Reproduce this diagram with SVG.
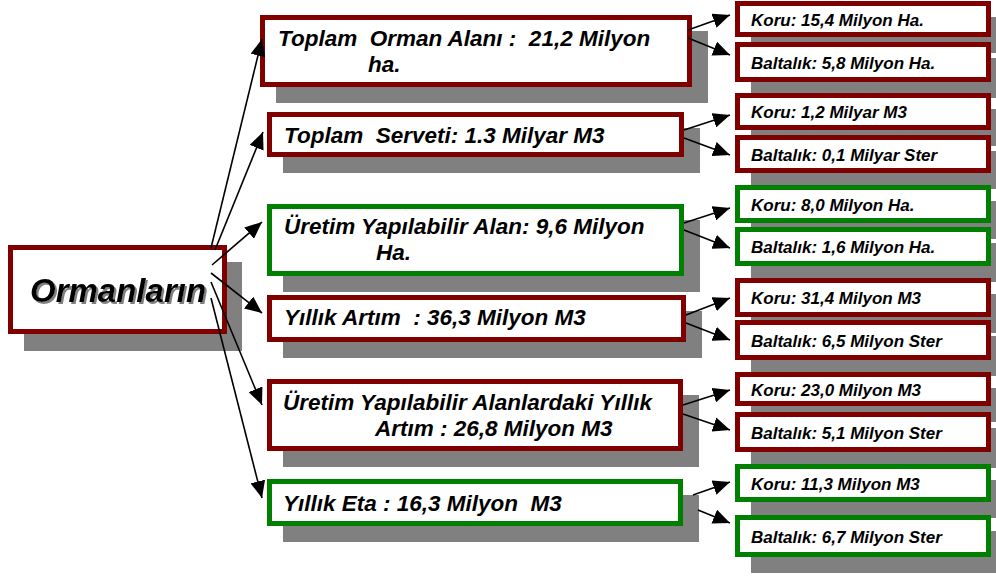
<svg xmlns="http://www.w3.org/2000/svg" width="996" height="576" viewBox="0 0 996 576">
<style>
.sh{fill:#808080}
.r{fill:#fff;stroke:#800000;stroke-width:5}
.g{fill:#fff;stroke:#008000;stroke-width:5}
text{font-family:"Liberation Sans",Arial,sans-serif;font-weight:bold;font-style:italic;fill:#000;white-space:pre}
.t2{font-size:22.5px}
.t3{font-size:17px}
.t1{font-size:33px;filter:url(#ts)}
.c line{stroke:#000;stroke-width:1.6;marker-end:url(#ah)}
</style>
<defs>
<marker id="ah" markerUnits="userSpaceOnUse" markerWidth="19" markerHeight="15" refX="17" refY="7.5" orient="auto">
<path d="M0,0 L17,7.5 L0,15 Z" fill="#000"/>
</marker>
<filter id="ts" x="-10%" y="-20%" width="120%" height="150%">
<feDropShadow dx="2" dy="2" stdDeviation="0.5" flood-color="#808080" flood-opacity="1"/>
</filter>
</defs>
<rect width="996" height="576" fill="#fff"/>

<g id="shadows">
<rect class="sh" x="24" y="262" width="218" height="89"/>
<rect class="sh" x="276" y="31" width="432" height="72"/>
<rect class="sh" x="283" y="128" width="417" height="45"/>
<rect class="sh" x="283" y="220" width="417" height="72"/>
<rect class="sh" x="283" y="311" width="419" height="47"/>
<rect class="sh" x="283" y="395" width="416" height="72"/>
<rect class="sh" x="283" y="495" width="416" height="47"/>
<rect class="sh" x="751" y="17" width="256" height="36"/>
<rect class="sh" x="751" y="58" width="256" height="40"/>
<rect class="sh" x="751" y="109" width="256" height="37"/>
<rect class="sh" x="751" y="151" width="256" height="38"/>
<rect class="sh" x="751" y="201" width="256" height="38"/>
<rect class="sh" x="751" y="243" width="256" height="39"/>
<rect class="sh" x="751" y="294" width="256" height="39"/>
<rect class="sh" x="751" y="336" width="256" height="40"/>
<rect class="sh" x="751" y="388" width="256" height="34"/>
<rect class="sh" x="751" y="428" width="256" height="40"/>
<rect class="sh" x="751" y="480" width="256" height="38"/>
<rect class="sh" x="751" y="531" width="256" height="42"/>
</g>

<g id="main">
<rect class="r" x="10.5" y="247.5" width="214" height="84"/>
<text class="t1" x="30" y="302">Ormanların</text>
</g>

<g id="n-orman-alani">
<rect class="r" x="262.5" y="17.5" width="427" height="67"/>
<text class="t2" x="278" y="46">Toplam  Orman Alanı :  21,2 Milyon</text>
<text class="t2" x="368" y="72">ha.</text>
</g>
<g id="n-serveti">
<rect class="r" x="269.5" y="114.5" width="412" height="40"/>
<text class="t2" x="284" y="143">Toplam  Serveti: 1.3 Milyar M3</text>
</g>
<g id="n-uretim-alan">
<rect class="g" x="269.5" y="206.5" width="412" height="67"/>
<text class="t2" x="284" y="234">Üretim Yapılabilir Alan: 9,6 Milyon</text>
<text class="t2" x="376" y="260">Ha.</text>
</g>
<g id="n-yillik-artim">
<rect class="r" x="269.5" y="297.5" width="414" height="42"/>
<text class="t2" x="284" y="325">Yıllık Artım  : 36,3 Milyon M3</text>
</g>
<g id="n-uretim-artim">
<rect class="r" x="269.5" y="381.5" width="411" height="67"/>
<text class="t2" x="283" y="410">Üretim Yapılabilir Alanlardaki Yıllık</text>
<text class="t2" x="375" y="436">Artım : 26,8 Milyon M3</text>
</g>
<g id="n-eta">
<rect class="g" x="269.5" y="481.5" width="411" height="42"/>
<text class="t2" x="283" y="511">Yıllık Eta : 16,3 Milyon  M3</text>
</g>

<g id="l3-1a"><rect class="r" x="737.5" y="3.5" width="251" height="31"/><text class="t3" x="751" y="25.5">Koru: 15,4 Milyon Ha.</text></g>
<g id="l3-1b"><rect class="r" x="737.5" y="44.5" width="251" height="35"/><text class="t3" x="751" y="68.5">Baltalık: 5,8 Milyon Ha.</text></g>
<g id="l3-2a"><rect class="r" x="737.5" y="95.5" width="251" height="32"/><text class="t3" x="751" y="118">Koru: 1,2 Milyar M3</text></g>
<g id="l3-2b"><rect class="r" x="737.5" y="137.5" width="251" height="33"/><text class="t3" x="751" y="160.5">Baltalık: 0,1 Milyar Ster</text></g>
<g id="l3-3a"><rect class="g" x="737.5" y="187.5" width="251" height="33"/><text class="t3" x="751" y="210.5">Koru: 8,0 Milyon Ha.</text></g>
<g id="l3-3b"><rect class="g" x="737.5" y="229.5" width="251" height="34"/><text class="t3" x="751" y="253">Baltalık: 1,6 Milyon Ha.</text></g>
<g id="l3-4a"><rect class="r" x="737.5" y="280.5" width="251" height="34"/><text class="t3" x="751" y="304">Koru: 31,4 Milyon M3</text></g>
<g id="l3-4b"><rect class="r" x="737.5" y="322.5" width="251" height="35"/><text class="t3" x="751" y="346.5">Baltalık: 6,5 Milyon Ster</text></g>
<g id="l3-5a"><rect class="r" x="737.5" y="374.5" width="251" height="29"/><text class="t3" x="751" y="395.5">Koru: 23,0 Milyon M3</text></g>
<g id="l3-5b"><rect class="r" x="737.5" y="414.5" width="251" height="35"/><text class="t3" x="751" y="438.5">Baltalık: 5,1 Milyon Ster</text></g>
<g id="l3-6a"><rect class="g" x="737.5" y="466.5" width="251" height="33"/><text class="t3" x="751" y="489.5">Koru: 11,3 Milyon M3</text></g>
<g id="l3-6b"><rect class="g" x="737.5" y="517.5" width="251" height="37"/><text class="t3" x="751" y="542.5">Baltalık: 6,7 Milyon Ster</text></g>

<g id="connectors" class="c">
<line x1="211" y1="248" x2="262" y2="39"/>
<line x1="215" y1="250" x2="263" y2="132"/>
<line x1="212" y1="265" x2="262" y2="222"/>
<line x1="211" y1="273" x2="262" y2="313"/>
<line x1="211" y1="282" x2="262" y2="405"/>
<line x1="211" y1="298" x2="262" y2="498"/>
<line x1="688" y1="30" x2="730" y2="15"/>
<line x1="688" y1="38" x2="730" y2="55"/>
<line x1="684" y1="130" x2="730" y2="115"/>
<line x1="684" y1="138" x2="730" y2="155"/>
<line x1="684" y1="223" x2="730" y2="208"/>
<line x1="684" y1="230" x2="730" y2="248"/>
<line x1="686" y1="315" x2="730" y2="298"/>
<line x1="686" y1="323" x2="730" y2="340"/>
<line x1="683" y1="405" x2="730" y2="390"/>
<line x1="683" y1="414" x2="730" y2="430"/>
<line x1="693" y1="495" x2="730" y2="482"/>
<line x1="698" y1="510" x2="730" y2="523"/>
</g>
</svg>
